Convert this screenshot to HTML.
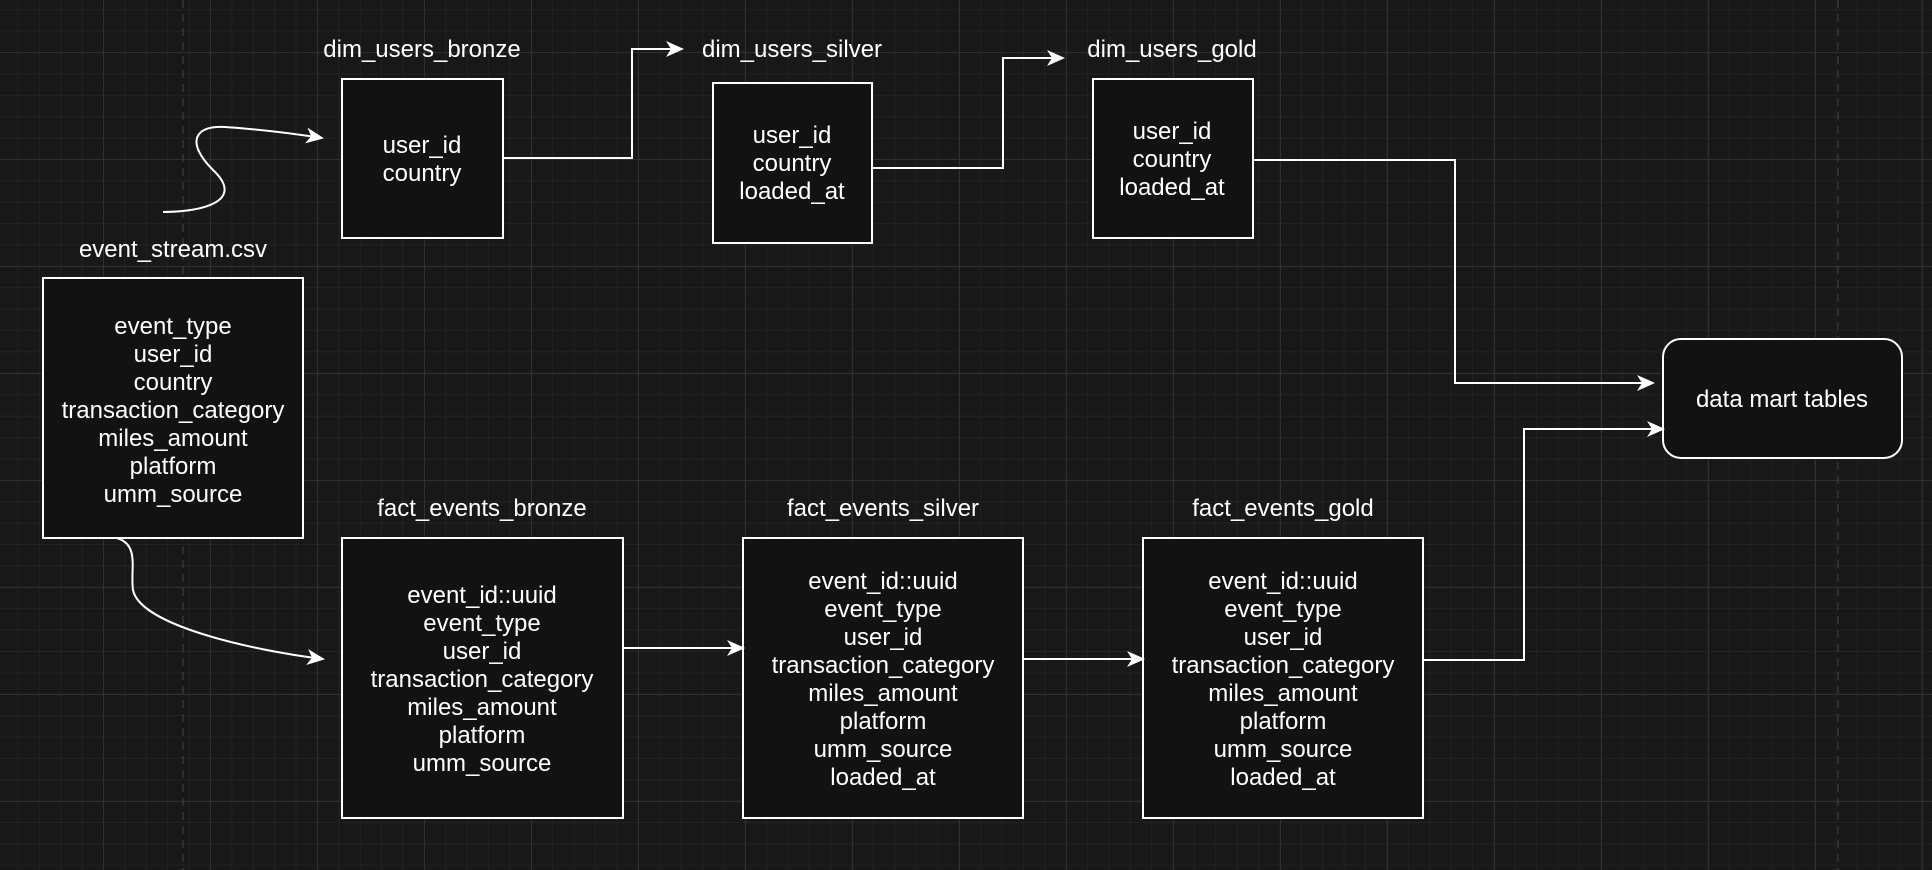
<!DOCTYPE html>
<html><head><meta charset="utf-8"><style>
html,body{margin:0;padding:0}
body{width:1932px;height:870px;overflow:hidden;background-color:#181818;
background-image:
linear-gradient(to right,#303030 1px,transparent 1px),
linear-gradient(to bottom,#303030 1px,transparent 1px),
linear-gradient(to right,#222 1px,transparent 1px),
linear-gradient(to bottom,#222 1px,transparent 1px);
background-size:107px 107px,107px 107px,21.4px 21.4px,21.4px 21.4px;
background-position:103px 52px,103px 52px,103px 52px,103px 52px;
font-family:"Liberation Sans",Arial,sans-serif;}
svg{position:absolute;left:0;top:0}
text{font-family:"Liberation Sans",Arial,sans-serif;font-size:24px;fill:#fff;text-anchor:middle}
</style></head><body>
<svg width="1932" height="870" viewBox="0 0 1932 870">
<defs><marker id="a" markerWidth="18" markerHeight="16" refX="16" refY="8" orient="auto" markerUnits="userSpaceOnUse">
<path d="M0,0 L18,8 L0,16 L5,8 Z" fill="#fff"/></marker></defs>
<line x1="183" y1="0" x2="183" y2="870" stroke="#444" stroke-dasharray="8 6"/>
<line x1="1838" y1="0" x2="1838" y2="870" stroke="#444" stroke-dasharray="8 6"/>
<g fill="#121212" stroke="#fff" stroke-width="2">
<rect x="342" y="79" width="161" height="159"/>
<rect x="713" y="83" width="159" height="160"/>
<rect x="1093" y="79" width="160" height="159"/>
<rect x="43" y="278" width="260" height="260"/>
<rect x="342" y="538" width="281" height="280"/>
<rect x="743" y="538" width="280" height="280"/>
<rect x="1143" y="538" width="280" height="280"/>
<rect x="1663" y="339" width="239" height="119" rx="18"/>
</g>
<g fill="none" stroke="#fff" stroke-width="2" marker-end="url(#a)">
<path d="M163,212 C205,212 245,200 213,170 C185,142 195,125 225,127 C255,129 290,133 322,138"/>
<path d="M503,158 H632 V49 H682"/>
<path d="M872,168 H1003 V58 H1063"/>
<path d="M1253,160 H1455 V383 H1653"/>
<path d="M1423,660 H1524 V429 H1663"/>
<path d="M623,648 H743"/>
<path d="M1023,659 H1143"/>
<path d="M117,538 C140,545 130,570 133,590 C140,625 250,650 323,659"/>
</g>
<text x="422" y="57">dim_users_bronze</text>
<text x="792" y="57">dim_users_silver</text>
<text x="1172" y="57">dim_users_gold</text>
<text x="173" y="257">event_stream.csv</text>
<text x="482" y="516">fact_events_bronze</text>
<text x="883" y="516">fact_events_silver</text>
<text x="1283" y="516">fact_events_gold</text>
<text x="1782" y="407">data mart tables</text>
<text x="422" y="153">user_id</text><text x="422" y="181">country</text>
<text x="792" y="143">user_id</text><text x="792" y="171">country</text><text x="792" y="199">loaded_at</text>
<text x="1172" y="139">user_id</text><text x="1172" y="167">country</text><text x="1172" y="195">loaded_at</text>
<g>
<text x="173" y="334">event_type</text><text x="173" y="362">user_id</text><text x="173" y="390">country</text>
<text x="173" y="418">transaction_category</text><text x="173" y="446">miles_amount</text><text x="173" y="474">platform</text><text x="173" y="502">umm_source</text>
</g>
<g>
<text x="482" y="603">event_id::uuid</text><text x="482" y="631">event_type</text><text x="482" y="659">user_id</text>
<text x="482" y="687">transaction_category</text><text x="482" y="715">miles_amount</text><text x="482" y="743">platform</text><text x="482" y="771">umm_source</text>
</g>
<g>
<text x="883" y="589">event_id::uuid</text><text x="883" y="617">event_type</text><text x="883" y="645">user_id</text>
<text x="883" y="673">transaction_category</text><text x="883" y="701">miles_amount</text><text x="883" y="729">platform</text><text x="883" y="757">umm_source</text><text x="883" y="785">loaded_at</text>
</g>
<g>
<text x="1283" y="589">event_id::uuid</text><text x="1283" y="617">event_type</text><text x="1283" y="645">user_id</text>
<text x="1283" y="673">transaction_category</text><text x="1283" y="701">miles_amount</text><text x="1283" y="729">platform</text><text x="1283" y="757">umm_source</text><text x="1283" y="785">loaded_at</text>
</g>
</svg>
</body></html>
